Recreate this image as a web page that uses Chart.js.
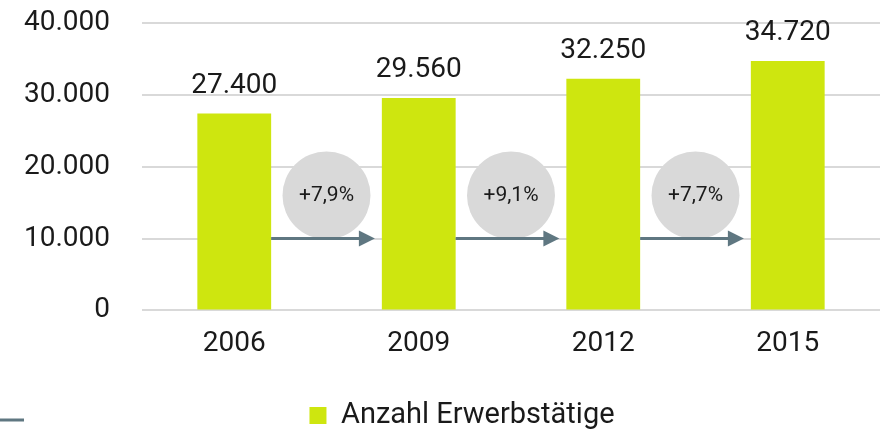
<!DOCTYPE html>
<html>
<head>
<meta charset="utf-8">
<script src="https://cdn.jsdelivr.net/npm/chart.js@4"></script>
<style>
  html, body { margin: 0; padding: 0; background: #fff; }
  #wrap { width: 888px; height: 432px; }
</style>
</head>
<body>
<div id="wrap"><canvas id="chart" width="888" height="432"></canvas></div>
<script>
const years = ['2006', '2009', '2012', '2015'];
const employed = [27400, 29560, 32250, 34720];
const growthLabels = ['+7,9%', '+9,1%', '+7,7%'];
const yTicks = [0, 10000, 20000, 30000, 40000];

const barColor = '#cee60f';
const gridColor = '#d9d9d9';
const arrowColor = '#5f7781';
const fontFamily = 'Roboto, "Liberation Sans", sans-serif';

function formatDe(v) {
    return v === 0 ? '0' : v.toLocaleString('de-DE');
}

// value labels, growth circles and arrows between the bars
const annotations = {
    id: 'annotations',
    afterLayout(chart) {
        // legend sits a bit right of centre and lower in the original
        chart.legend.left += 22;
        chart.legend.right += 22;
        chart.legend.top += 8;
        chart.legend.bottom += 8;
    },
    afterDatasetsDraw(chart) {
        const ctx = chart.ctx;
        const x = chart.scales.x;
        const y = chart.scales.y;
        const bars = chart.getDatasetMeta(0).data;

        ctx.save();
        ctx.fillStyle = '#1a1a1a';
        ctx.font = '28px ' + fontFamily;
        ctx.textAlign = 'center';
        ctx.textBaseline = 'alphabetic';
        bars.forEach((bar, i) => {
            ctx.fillText(formatDe(employed[i]), bar.x, bar.y - 21);
        });

        growthLabels.forEach((label, i) => {
            const left = bars[i];
            const right = bars[i + 1];
            const cx = (x.getPixelForValue(i) + x.getPixelForValue(i + 1)) / 2;
            const cy = y.getPixelForValue(16000);

            ctx.beginPath();
            ctx.fillStyle = '#d9d9d9';
            ctx.arc(cx, cy, 44, 0, Math.PI * 2);
            ctx.fill();

            ctx.fillStyle = '#1a1a1a';
            ctx.font = '21px ' + fontFamily;
            ctx.textBaseline = 'middle';
            ctx.fillText(label, cx, cy);

            const ay = y.getPixelForValue(10000);
            const x0 = left.x + left.width / 2;
            const x1 = right.x - right.width / 2 - 7;
            ctx.strokeStyle = arrowColor;
            ctx.lineWidth = 3;
            ctx.beginPath();
            ctx.moveTo(x0, ay);
            ctx.lineTo(x1 - 14, ay);
            ctx.stroke();
            ctx.fillStyle = arrowColor;
            ctx.beginPath();
            ctx.moveTo(x1, ay);
            ctx.lineTo(x1 - 16, ay - 8);
            ctx.lineTo(x1 - 16, ay + 8);
            ctx.closePath();
            ctx.fill();
        });

        // small cut-off stroke at the lower left edge
        ctx.strokeStyle = arrowColor;
        ctx.lineWidth = 3;
        ctx.beginPath();
        ctx.moveTo(0, 420);
        ctx.lineTo(24, 420);
        ctx.stroke();
        ctx.restore();
    }
};

new Chart(document.getElementById('chart'), {
    type: 'bar',
    data: {
        labels: years,
        datasets: [{
            label: 'Anzahl Erwerbstätige',
            data: employed,
            backgroundColor: barColor,
            borderWidth: 0,
            barPercentage: 0.4,
            categoryPercentage: 1
        }]
    },
    options: {
        responsive: false,
        animation: false,
        layout: {
            padding: { top: 23, left: 0, right: 8, bottom: 0 }
        },
        scales: {
            x: {
                afterFit: scale => { scale.height += 21; },
                grid: { display: false },
                border: { display: false },
                ticks: {
                    color: '#1a1a1a',
                    padding: 9,
                    font: { family: fontFamily, size: 28 }
                }
            },
            y: {
                min: 0,
                max: 40000,
                afterFit: scale => {
                    scale.width = 142;
                    scale.paddingTop = 0;
                    scale.paddingBottom = 0;
                },
                afterBuildTicks: scale => {
                    scale.ticks = yTicks.map(v => ({ value: v }));
                },
                grid: { color: gridColor, lineWidth: 2, drawTicks: false },
                border: { display: false },
                ticks: {
                    color: '#1a1a1a',
                    padding: 32,
                    font: { family: fontFamily, size: 28 },
                    callback: v => formatDe(v)
                }
            }
        },
        plugins: {
            legend: {
                position: 'bottom',
                labels: {
                    color: '#1a1a1a',
                    boxWidth: 17,
                    boxHeight: 17,
                    padding: 2,
                    font: { family: fontFamily, size: 29 }
                }
            },
            tooltip: { enabled: false }
        }
    },
    plugins: [annotations]
});
</script>
</body>
</html>
